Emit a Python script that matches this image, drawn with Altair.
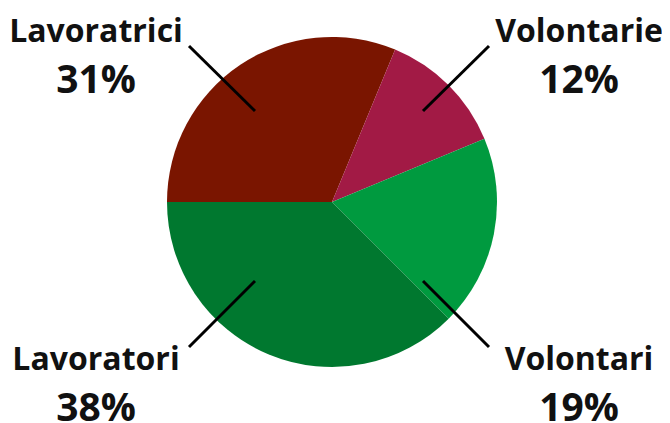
import math
import altair as alt
import pandas as pd

# data
categories = ["Lavoratrici", "Volontarie", "Volontari", "Lavoratori"]
shares = [31.25, 12.5, 18.75, 37.5]
pct_labels = ["31%", "12%", "19%", "38%"]
colors = ["#7A1500", "#A21A45", "#009A3F", "#00782F"]

# layout of annotations (chart pixel coordinates), same order as categories
label_x = [88, 571, 571, 88]
name_y = [34, 34, 362, 362]
pct_y = [85, 85, 413, 413]
line_x1 = [181, 481, 481, 181]
line_y1 = [38, 38, 339, 339]
line_x2 = [247, 415, 415, 247]
line_y2 = [103, 103, 273, 273]

W, H = 654, 415
CX, CY, R = 324, 194, 165

pie_df = pd.DataFrame({"cat": categories, "share": shares, "idx": list(range(len(categories)))})
ann_df = pd.DataFrame({
    "cat": categories, "pct": pct_labels,
    "lx": label_x, "ny": name_y, "py": pct_y,
    "x1": line_x1, "y1": line_y1, "x2": line_x2, "y2": line_y2,
})

pie = alt.Chart(pie_df).mark_arc(radius=R).encode(
    theta=alt.Theta("share:Q", stack=True,
                    scale=alt.Scale(range=[-math.pi / 2, 3 * math.pi / 2])),
    color=alt.Color("cat:N", scale=alt.Scale(domain=categories, range=colors), legend=None),
    order=alt.Order("idx:Q"),
    x=alt.value(CX),
    y=alt.value(CY),
)

xs = alt.Scale(domain=[0, W], nice=False, zero=False)
ys = alt.Scale(domain=[0, H], nice=False, zero=False, reverse=True)

base = alt.Chart(ann_df)
lines = base.mark_rule(color="black", strokeWidth=3).encode(
    x=alt.X("x1:Q", scale=xs, axis=None),
    y=alt.Y("y1:Q", scale=ys, axis=None),
    x2="x2:Q",
    y2="y2:Q",
)
names = base.mark_text(font="Open Sans", fontWeight="bold", fontSize=32, color="#111111",
                       align="center", baseline="alphabetic").encode(
    x=alt.X("lx:Q", scale=xs, axis=None),
    y=alt.Y("ny:Q", scale=ys, axis=None),
    text="cat:N",
)
pcts = base.mark_text(font="Open Sans", fontWeight="bold", fontSize=39, color="#111111",
                      align="center", baseline="alphabetic").encode(
    x=alt.X("lx:Q", scale=xs, axis=None),
    y=alt.Y("py:Q", scale=ys, axis=None),
    text="pct:N",
)

chart = alt.layer(pie, lines, names, pcts).properties(
    width=W, height=H, padding=0, autosize=alt.AutoSizeParams(type="none")
).configure_view(stroke=None)

chart.save("out.html", embed_options={"renderer": "svg", "actions": False})
